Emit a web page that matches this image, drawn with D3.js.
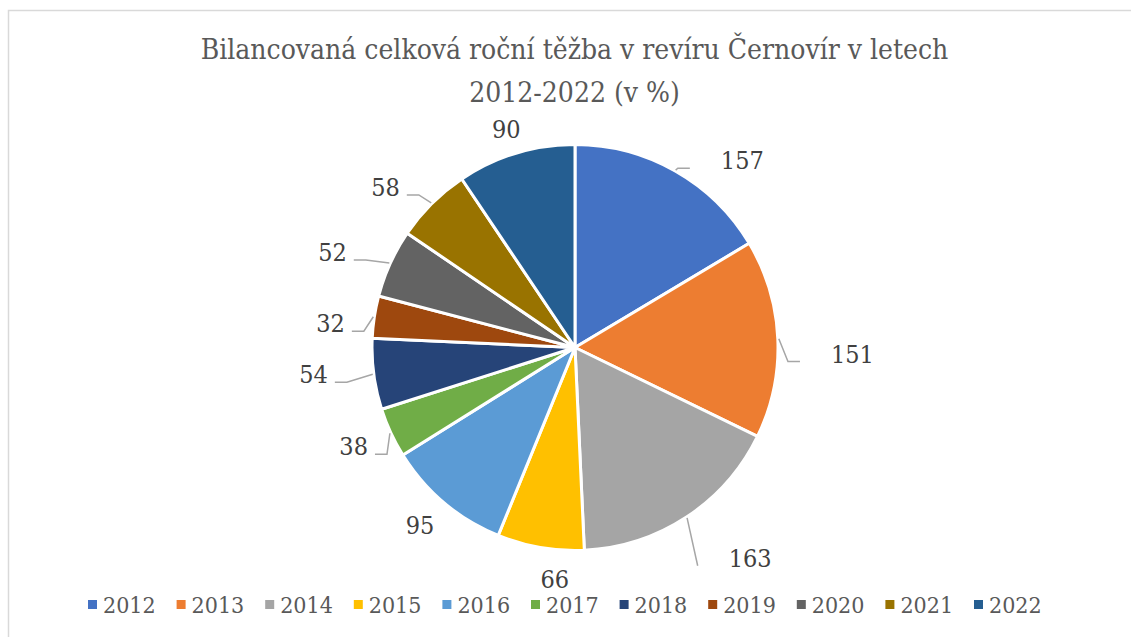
<!DOCTYPE html>
<html>
<head>
<meta charset="utf-8">
<script src="https://cdn.jsdelivr.net/npm/d3@7"></script>
<style>
  body { margin: 0; background: #fff; }
  svg text { font-family: 'DejaVu Serif', serif; font-stretch: condensed; }
</style>
</head>
<body>
<div id="chart"></div>
<script>
// data
var years = ["2012", "2013", "2014", "2015", "2016", "2017", "2018", "2019", "2020", "2021", "2022"];
var values = [157, 151, 163, 66, 95, 38, 54, 32, 52, 58, 90];
var colors = ["#4472C4", "#ED7D31", "#A5A5A5", "#FFC000", "#5B9BD5", "#70AD47",
              "#264478", "#9E480E", "#636363", "#997300", "#255E91"];
var titleLines = ["Bilancovaná celková roční těžba v revíru Černovír v letech", "2012-2022 (v  %)"];

// label placement tweaks (angle shift in degrees, distance as factor of radius)
var labelNudge = [[12.3, 1.235], [3.8, 1.367], [-6.4, 1.35], [-4.8, 1.145], [1.0, 1.161], [0.7, 1.195],
                  [1.6, 1.295], [-3.1, 1.21], [-3.1, 1.283], [-5.0, 1.222], [-0.5, 1.128]];

var width = 1131, height = 637;
var cx = 575, cy = 347.5, radius = 203;

var svg = d3.select("#chart")
    .append("svg")
    .attr("width", width)
    .attr("height", height);

// chart frame
svg.append("rect")
    .attr("x", 8.5)
    .attr("y", 10.5)
    .attr("width", width)
    .attr("height", height)
    .attr("fill", "none")
    .attr("stroke", "#d9d9d9")
    .attr("stroke-width", 1.5);

// title
var title = svg.append("text")
    .attr("text-anchor", "middle")
    .style("font-size", "28px")
    .style("fill", "#595959");
title.selectAll("tspan")
    .data(titleLines)
    .enter()
    .append("tspan")
    .attr("x", 574.5)
    .attr("y", function (d, i) { return 59 + i * 43; })
    .text(function (d) { return d; });

var pie = d3.pie().sort(null).value(function (d) { return d; });
var arcs = pie(values);
var arc = d3.arc().innerRadius(0).outerRadius(radius);

var g = svg.append("g")
    .attr("transform", "translate(" + cx + "," + cy + ")");

g.selectAll("path")
    .data(arcs)
    .enter()
    .append("path")
    .attr("d", arc)
    .attr("fill", function (d, i) { return colors[i]; })
    .attr("stroke", "#fff")
    .attr("stroke-width", 3)
    .attr("stroke-linejoin", "round");

// data labels
var labels = g.selectAll(".lbl")
    .data(arcs)
    .enter()
    .append("text")
    .attr("class", "lbl")
    .attr("text-anchor", "middle")
    .style("font-size", "25px")
    .style("fill", "#404040")
    .text(function (d) { return d.value; })
    .each(function (d, i) {
        var mid = (d.startAngle + d.endAngle) / 2;
        var a = mid + labelNudge[i][0] * Math.PI / 180;
        var dist = labelNudge[i][1] * radius;
        d.lx = Math.sin(a) * dist;
        d.ly = -Math.cos(a) * dist;
        d.mid = mid;
        d.factor = labelNudge[i][1];
        d.w = this.getComputedTextLength();
    })
    .attr("x", function (d) { return d.lx; })
    .attr("y", function (d) { return d.ly + 8.5; });

// leader lines for labels placed away from the pie
var leaders = arcs.filter(function (d) { return d.factor > 1.18; });
g.selectAll(".leader")
    .data(leaders)
    .enter()
    .insert("polyline", ".lbl")
    .attr("class", "leader")
    .attr("fill", "none")
    .attr("stroke", "#a6a6a6")
    .attr("stroke-width", 1.5)
    .attr("points", function (d) {
        var sx = Math.sin(d.mid) * (radius + 1);
        var sy = -Math.cos(d.mid) * (radius + 1);
        var side = d.lx > 0 ? 1 : -1;
        var ex = side > 0 ? d.lx - d.w / 2 - 31 : d.lx + d.w / 2 + 7;
        var ey = d.ly + 7.5;
        var bx = ex - 12 * side;
        var pts = [[sx, sy]];
        if (side * (bx - sx) > 0) pts.push([bx, ey]);
        pts.push([ex, ey]);
        return pts.map(function (p) { return p.join(","); }).join(" ");
    });

// legend
var legend = svg.selectAll(".leg")
    .data(years)
    .enter()
    .append("g")
    .attr("class", "leg")
    .attr("transform", function (d, i) { return "translate(" + (88 + i * 88.6) + ",600)"; });

legend.append("rect")
    .attr("width", 9)
    .attr("height", 9)
    .attr("fill", function (d, i) { return colors[i]; });

legend.append("text")
    .attr("x", 15)
    .attr("y", 13)
    .style("font-size", "23px")
    .style("fill", "#595959")
    .text(function (d) { return d; });
</script>
</body>
</html>
